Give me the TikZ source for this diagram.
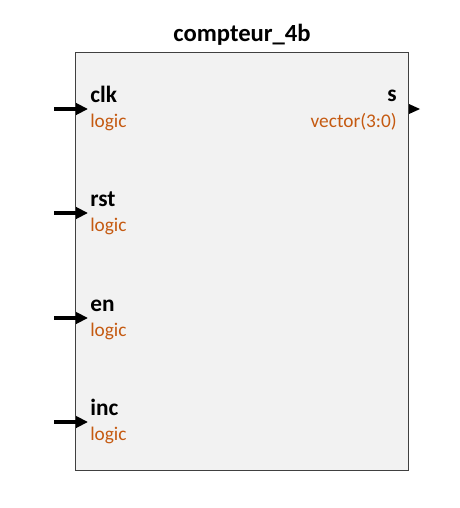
\documentclass[tikz,border=0pt]{standalone}
\usepackage{fontspec}
\setmainfont{Carlito}
\usetikzlibrary{arrows.meta}
\definecolor{typec}{HTML}{C55A11}
\definecolor{boxfill}{HTML}{F2F2F2}
\definecolor{boxdraw}{HTML}{404040}
\tikzset{
  portname/.style={font=\bfseries\fontsize{17.5}{20}\selectfont, inner sep=0pt},
  porttype/.style={font=\fontsize{14.5}{17}\selectfont, text=typec, inner sep=0pt},
  inarrow/.style={line width=2.6pt, -{Triangle[length=9pt,width=8.5pt]}},
}
\begin{document}
\begin{tikzpicture}[x=0.75pt,y=-0.75pt]
\useasboundingbox (0,0) rectangle (460,508);
\node[draw=boxdraw, fill=boxfill, line width=0.9pt, minimum width=333*0.75pt, minimum height=418*0.75pt, inner sep=0pt, anchor=north west] (box) at (75,52) {};
\node[font=\bfseries\fontsize{18.5}{22}\selectfont, inner sep=0pt, anchor=base] (title) at (242,41) {compteur\_4b};
% inputs
\foreach \n/\y in {clk/109, rst/213, en/318, inc/422}{
  \coordinate (\n-s) at (54,\y);
  \coordinate (\n-e) at (88,\y);
  \draw[inarrow] (\n-s) -- (\n-e);
  \node[portname, anchor=base west] (\n-name) at (90,\y-7) {\n};
  \node[porttype, anchor=base west] (\n-type) at (90,\y+18) {logic};
}
% output
\coordinate (s-a) at (409,104);
\coordinate (s-b) at (409,114);
\coordinate (s-c) at (420,109);
\fill (s-a) -- (s-c) -- (s-b) -- cycle;
\node[portname, anchor=base east] (s-name) at (397,101) {s};
\node[porttype, anchor=base east] (s-type) at (397,127) {vector(3:0)};
\end{tikzpicture}
\end{document}
